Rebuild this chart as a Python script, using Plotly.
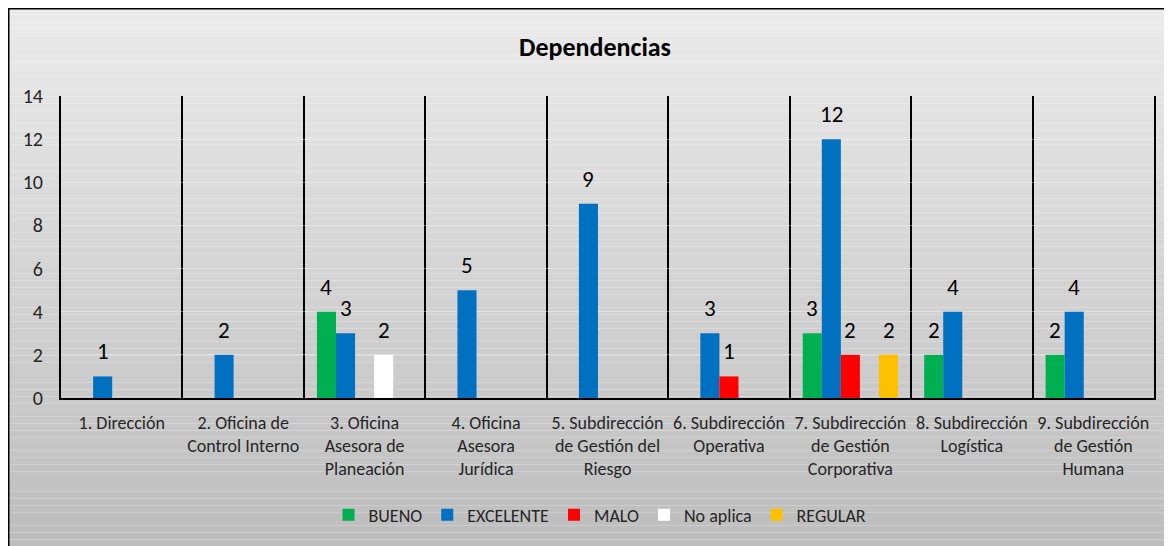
import plotly.graph_objects as go

categories = [
    "1. Dirección",
    "2. Oficina de<br>Control Interno",
    "3. Oficina<br>Asesora de<br>Planeación",
    "4. Oficina<br>Asesora<br>Jurídica",
    "5. Subdirección<br>de Gestión del<br>Riesgo",
    "6. Subdirección<br>Operativa",
    "7. Subdirección<br>de Gestión<br>Corporativa",
    "8. Subdirección<br>Logística",
    "9. Subdirección<br>de Gestión<br>Humana",
]

bueno = [None, None, 4, None, None, None, 3, 2, 2]
excelente = [1, 2, 3, 5, 9, 3, 12, 4, 4]
malo = [None, None, None, None, None, 1, 2, None, None]
no_aplica = [None, None, 2, None, None, None, None, None, None]
regular = [None, None, None, None, None, None, 2, None, None]

series = [
    ("BUENO", bueno, "#00B050"),
    ("EXCELENTE", excelente, "#0070C0"),
    ("MALO", malo, "#FF0000"),
    ("No aplica", no_aplica, "#FFFFFF"),
    ("REGULAR", regular, "#FFC000"),
]

FONT = "Calibri, Carlito, Lato, sans-serif"
# page body has an 8px margin; figure coordinates = reference - 8
W, H = 1164, 538
L, R, T, B = 53, 18, 88, 148
pw = W - L - R
ph = H - T - B
bargap = 0.215

fig = go.Figure()
for name, vals, col in series:
    fig.add_trace(go.Bar(
        x=categories, y=vals, name=name,
        marker=dict(color=col, line=dict(width=0)),
    ))

# data labels
bar_px = pw / len(categories) * (1 - bargap) / len(series)
annotations = []
for i, (name, vals, col) in enumerate(series):
    for c, v in zip(categories, vals):
        if v is None:
            continue
        annotations.append(dict(
            x=c, y=v, xref="x", yref="y", text=str(v), showarrow=False,
            xshift=(i - 2) * bar_px, yshift=25, yanchor="middle",
            font=dict(family=FONT, size=23, color="#000000"),
        ))

def px2x(p):
    return (p - L) / pw

def py2y(p):
    return (H - B - p) / ph

# background gradient + border (styling)
shapes = []
top_px, bot_px = 0, 545
n = 80
c_top, c_bot = (235, 235, 235), (188, 188, 188)
for k in range(n):
    y0p = top_px + (bot_px - top_px) * k / n
    y1p = top_px + (bot_px - top_px) * (k + 1) / n
    t = (k + 0.5) / n
    rgb = tuple(round(a + (b - a) * t) for a, b in zip(c_top, c_bot))
    shapes.append(dict(
        type="rect", xref="paper", yref="paper", layer="below",
        x0=px2x(0), x1=px2x(1175), y0=py2y(y1p), y1=py2y(y0p),
        fillcolor="rgb(%d,%d,%d)" % rgb, line=dict(width=0),
    ))
shapes.append(dict(
    type="rect", xref="paper", yref="paper", layer="below",
    x0=px2x(0.5), x1=px2x(1180), y0=py2y(550), y1=py2y(0.5),
    fillcolor="rgba(0,0,0,0)", line=dict(color="#000000", width=2),
))

fig.update_layout(
    width=W, height=H,
    margin=dict(l=L, r=R, t=T, b=B),
    paper_bgcolor="#FFFFFF",
    plot_bgcolor="rgba(0,0,0,0)",
    barmode="group", bargap=bargap, bargroupgap=0,
    title=dict(text="<b>Dependencias</b>", x=(595 - 8) / W,
               xanchor="center", y=1 - 39 / H, yanchor="middle",
               font=dict(family=FONT, size=26, color="#000000")),
    font=dict(family=FONT, color="#262626"),
    showlegend=True,
    legend=dict(orientation="h", x=px2x(600 - 8), xanchor="center",
                y=py2y(507), yanchor="middle",
                font=dict(family=FONT, size=18, color="#262626"),
                bgcolor="rgba(0,0,0,0)", itemwidth=30),
    shapes=shapes,
    annotations=annotations,
)

fig.update_xaxes(
    type="category", tickson="boundaries", showgrid=True,
    gridcolor="#000000", gridwidth=2, ticks="", tickangle=0,
    showline=True, linecolor="#000000", linewidth=2,
    ticklabelstandoff=7,
    tickfont=dict(family=FONT, size=18, color="#262626"),
    range=[-0.5, len(categories) - 0.5],
)
fig.update_yaxes(
    range=[0, 14], dtick=2, tick0=0, showgrid=True,
    gridcolor="rgba(255,255,255,0.35)", gridwidth=1,
    zeroline=False, showline=True, mirror=True,
    linecolor="#000000", linewidth=2, ticks="",
    ticklabelstandoff=12,
    tickfont=dict(family=FONT, size=20, color="#262626"),
)

fig.write_html("out.html")
